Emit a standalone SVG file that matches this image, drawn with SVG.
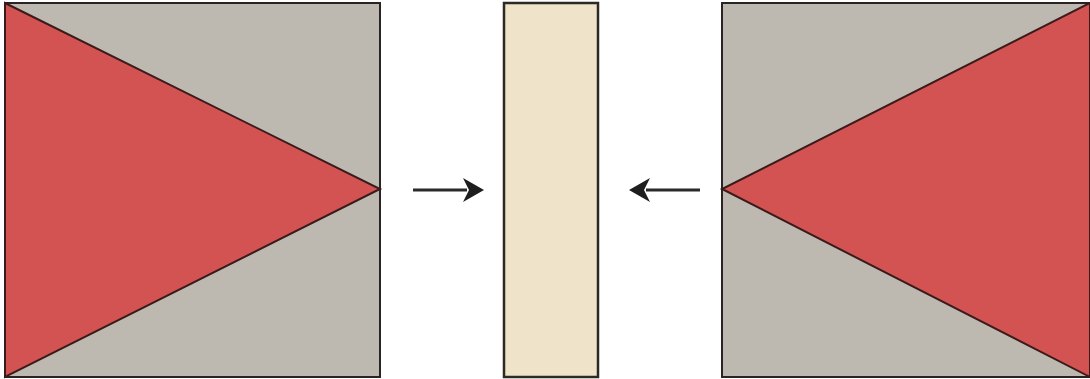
<svg xmlns="http://www.w3.org/2000/svg" width="1090" height="379" viewBox="0 0 1090 379">
<style>
.bg{fill:#bdb9b0;stroke:#2b2222;stroke-width:2}
.tri{fill:#d35352;stroke:#3a1a1a;stroke-width:2;stroke-linejoin:miter}
.mid{fill:#efe3c9;stroke:#2b2a24;stroke-width:2.5}
.arr{stroke:#2a2a2a;stroke-width:3;fill:none}
</style>
<defs>
<marker id="ah" viewBox="0 0 10 10" refX="9" refY="5" markerWidth="7" markerHeight="7" markerUnits="userSpaceOnUse" orient="auto">
<path d="M0,0 L10,5 L0,10 L3,5 Z" fill="#1e1e1e"/>
</marker>
</defs>
<g id="left-square">
<rect class="bg" x="5" y="3" width="375" height="374"/>
<polygon class="tri" points="5,3 380,189 5,377"/>
</g>
<g id="middle-panel">
<rect class="mid" x="504" y="3" width="94" height="374"/>
</g>
<g id="right-square">
<rect class="bg" x="722" y="3" width="372" height="374"/>
<polygon class="tri" points="1090,3 722,189 1090,377"/>
</g>
<g id="connectors">
<line class="arr" x1="413" y1="190" x2="467" y2="190"/>
<path d="M463,178 L484,190 L463,202 L469,190 Z" fill="#1e1e1e"/>
<line class="arr" x1="700" y1="190" x2="646" y2="190"/>
<path d="M650,178 L629,190 L650,202 L644,190 Z" fill="#1e1e1e"/>
</g>
</svg>
